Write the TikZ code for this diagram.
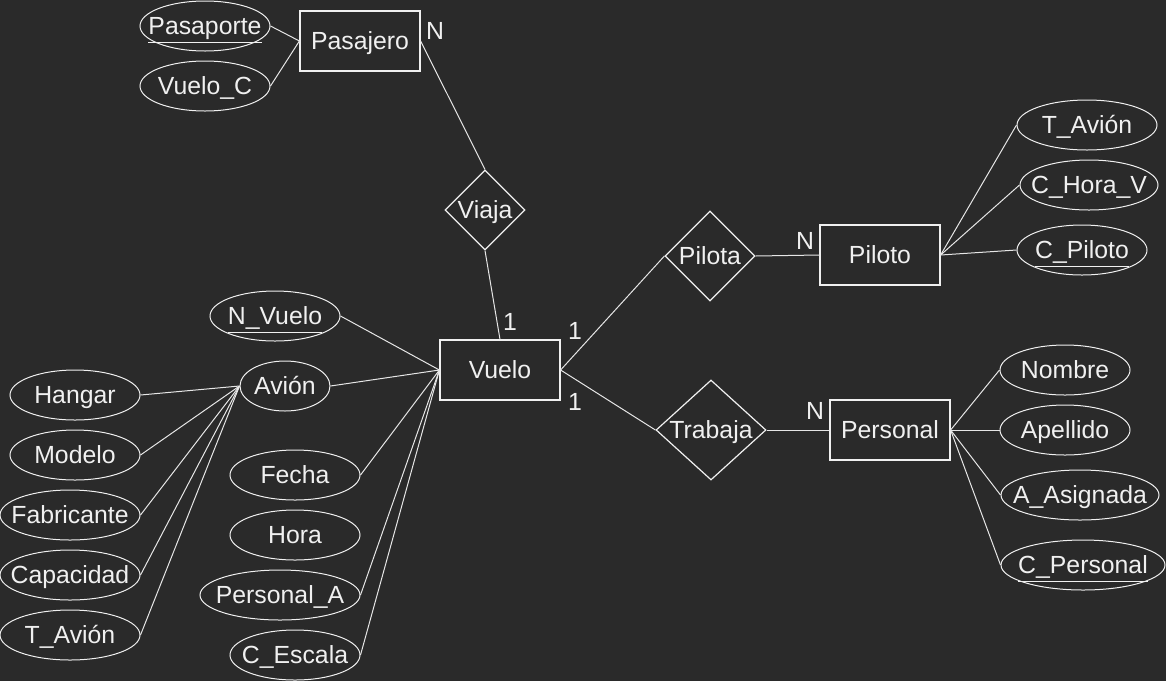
\documentclass[tikz,border=0pt]{standalone}
\usepackage{fontspec}
\setmainfont{Liberation Sans}
\definecolor{CanvasGray}{HTML}{2A2A2A}
\definecolor{InkWhite}{HTML}{F0F0F0}
\definecolor{EdgeWhite}{HTML}{E6E6E6}
\usetikzlibrary{shapes.geometric}
\newcommand{\erfont}{\fontsize{12.4}{14}\selectfont}
\tikzset{
  noGrow/.style={text height=8.9pt, text depth=0pt, execute at begin node={\hbox to 0pt\bgroup\hss}, execute at end node={\hss\egroup}},
  entityBox/.style={draw=InkWhite, line width=0.6pt, minimum width=60pt, minimum height=30pt, inner sep=0pt, text=InkWhite, font=\erfont, noGrow},
  relDiamond/.style={diamond, draw=InkWhite, line width=0.6pt, inner sep=0pt, text=InkWhite, font=\erfont, noGrow},
  attrNode/.style={ellipse, draw=InkWhite, line width=0.5pt, minimum width=65pt, minimum height=25pt, inner sep=0pt, text=InkWhite, font=\erfont, noGrow},
  cardLabel/.style={text=InkWhite, font=\erfont, inner sep=0pt},
  erLink/.style={draw=EdgeWhite, line width=0.5pt}
}

\begin{document}
\begin{tikzpicture}[x=0.5pt, y=-0.5pt]
\fill[CanvasGray] (0,0) rectangle (1166,681);
\useasboundingbox (0,0) rectangle (1166,681);

\node[entityBox] (pasajero) at (360,41) {Pasajero};
\node[entityBox] (vuelo) at (500,370) {Vuelo};
\node[entityBox] (piloto) at (880,255) {Piloto};
\node[entityBox] (personal) at (890,430) {Personal};

\node[relDiamond, minimum width=40pt, minimum height=40pt] (viaja) at (485,210) {Viaja};
\node[relDiamond, minimum width=45pt, minimum height=45pt] (pilota) at (710,256) {Pilota};
\node[relDiamond, minimum width=55pt, minimum height=50pt] (trabaja) at (711,430) {Trabaja};

\node[attrNode] (pasaporte) at (205,26) {\underline{Pasaporte}};
\node[attrNode] (vueloC) at (205,86) {Vuelo\_C};

\node[attrNode] (nVuelo) at (275,316) {\underline{N\_Vuelo}};
\node[attrNode, minimum width=45pt] (avion) at (285,386) {Avión};
\node[attrNode] (fecha) at (295,475) {Fecha};
\node[attrNode] (hora) at (295,535) {Hora};
\node[attrNode, minimum width=80pt] (personalA) at (280,595) {Personal\_A};
\node[attrNode] (cEscala) at (295,655) {C\_Escala};

\node[attrNode] (hangar) at (75,395) {Hangar};
\node[attrNode] (modelo) at (75,455) {Modelo};
\node[attrNode, minimum width=70pt] (fabricante) at (70,515) {Fabricante};
\node[attrNode, minimum width=70pt] (capacidad) at (70,575) {Capacidad};
\node[attrNode, minimum width=70pt] (tAvionA) at (70,635) {T\_Avión};

\node[attrNode, minimum width=70pt] (tAvionP) at (1087,125) {T\_Avión};
\node[attrNode, minimum width=69pt] (cHoraV) at (1089,185) {C\_Hora\_V};
\node[attrNode] (cPiloto) at (1082,250) {\underline{C\_Piloto}};

\node[attrNode] (nombre) at (1065,370) {Nombre};
\node[attrNode] (apellido) at (1065,430) {Apellido};
\node[attrNode, minimum width=79pt] (aAsignada) at (1080,495) {A\_Asignada};
\node[attrNode, minimum width=82pt] (cPersonal) at (1083,565) {\underline{C\_Personal}};

\node[cardLabel] (cardPasajero) at (435,31) {N};
\node[cardLabel] (cardVueloA) at (510,322) {1};
\node[cardLabel] (cardVueloB) at (575,331) {1};
\node[cardLabel] (cardVueloC) at (575,402) {1};
\node[cardLabel] (cardPiloto) at (805,241) {N};
\node[cardLabel] (cardPersonal) at (815,411) {N};

\draw[erLink] (pasaporte.east) -- (pasajero.west);
\draw[erLink] (vueloC.east) -- (pasajero.west);
\draw[erLink] (pasajero.east) -- (viaja.north);
\draw[erLink] (viaja.south) -- (vuelo.north);
\draw[erLink] (vuelo.east) -- (pilota.west);
\draw[erLink] (vuelo.east) -- (trabaja.west);
\draw[erLink] (pilota.east) -- (piloto.west);
\draw[erLink] (trabaja.east) -- (personal.west);

\foreach \a in {nVuelo,avion,fecha,personalA,cEscala}
  \draw[erLink] (vuelo.west) -- (\a.east);
\foreach \a in {hangar,modelo,fabricante,capacidad,tAvionA}
  \draw[erLink] (avion.west) -- (\a.east);
\foreach \a in {tAvionP,cHoraV,cPiloto}
  \draw[erLink] (piloto.east) -- (\a.west);
\foreach \a in {nombre,apellido,aAsignada,cPersonal}
  \draw[erLink] (personal.east) -- (\a.west);
\end{tikzpicture}
\end{document}
